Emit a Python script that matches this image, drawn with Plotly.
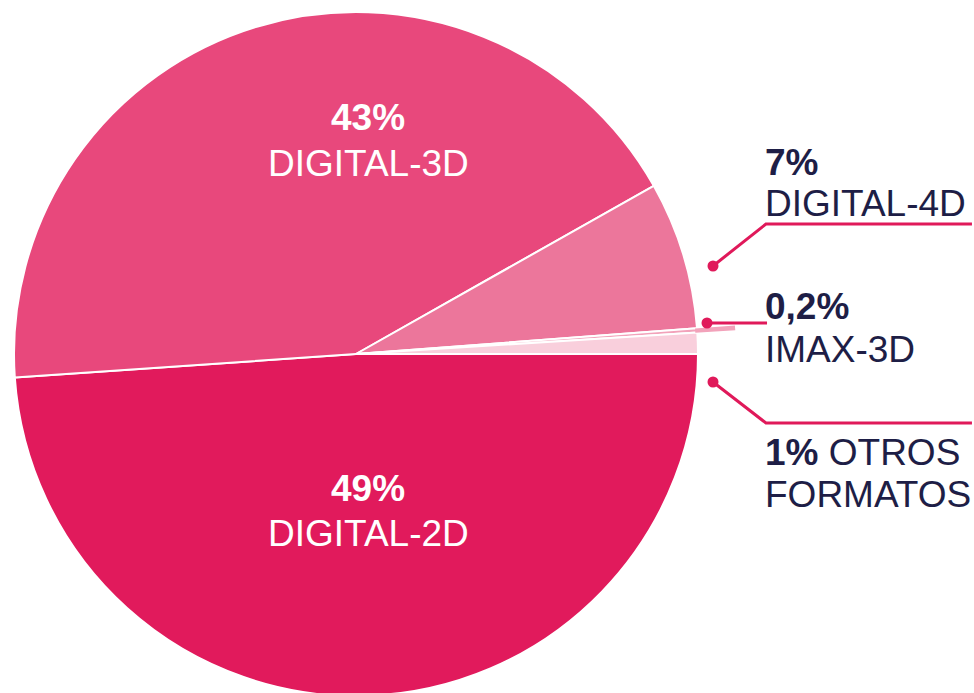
import math
import plotly.graph_objects as go

# ---- data ----
labels = ["DIGITAL-2D", "DIGITAL-3D", "DIGITAL-4D", "IMAX-3D", "OTROS FORMATOS"]
values = [49, 43, 7, 0.2, 1]
pct_text = ["49%", "43%", "7%", "0,2%", "1%"]
colors = ["#E11A5C", "#E8487C", "#EC769B", "#F2A2BA", "#F9CFDC"]

W, H = 974, 700  # page is clipped to 693 px by the window
NAVY = "#1E1E46"
PINK = "#E0195A"
FONT = "Liberation Sans, Arial, sans-serif"
FS = 37

cx, cy, R = 356, 354, 342  # pie centre / radius in px

def px(x):
    return x / W

def py(y):
    return 1 - y / H

fig = go.Figure(go.Pie(
    labels=labels,
    values=values,
    sort=False,
    direction="clockwise",
    rotation=90,
    marker=dict(colors=colors, line=dict(color="white", width=2)),
    textinfo="none",
    hoverinfo="label+percent",
    showlegend=False,
    domain=dict(x=[px(cx - R), px(cx + R)], y=[py(cy + R), py(cy - R)]),
))

annotations = []

def add_text(x, y, text, color, size=FS, xanchor="left"):
    annotations.append(dict(
        x=px(x), y=py(y), xref="paper", yref="paper", text=text,
        showarrow=False, xanchor=xanchor, yanchor="middle",
        font=dict(family=FONT, size=size, color=color),
    ))

# inside labels
add_text(368, 117, "<b>%s</b>" % pct_text[1], "white", xanchor="center")
add_text(368, 163, labels[1], "white", xanchor="center")
add_text(368, 488, "<b>%s</b>" % pct_text[0], "white", xanchor="center")
add_text(368, 533, labels[0], "white", xanchor="center")

# outside labels
add_text(763, 162, "<b>%s</b>" % pct_text[2], NAVY)
add_text(763, 204, labels[2], NAVY)
add_text(763, 306, "<b>%s</b>" % pct_text[3], NAVY)
add_text(763, 349, labels[3], NAVY)
add_text(763, 452, "<b>%s</b> OTROS" % pct_text[4], NAVY)
add_text(763, 494, "FORMATOS", NAVY)

shapes = []

# IMAX slice extension, derived from the data angles
total = sum(values)
start = sum(values[:3]) / total * 360
end = sum(values[:4]) / total * 360
r1, r2 = R - 2, R + 38
pts = []
for a, r in [(start, r1), (start, r2), (end, r2), (end, r1)]:
    rad = math.radians(a)
    pts.append((cx + r * math.cos(rad), cy + r * math.sin(rad)))
path = "M " + " L ".join("%.4f,%.4f" % (px(x), py(y)) for x, y in pts) + " Z"
shapes.append(dict(type="path", path=path, xref="paper", yref="paper",
                   fillcolor=colors[3], line=dict(width=0), layer="above"))

def polyline(points):
    p = "M " + " L ".join("%.4f,%.4f" % (px(x), py(y)) for x, y in points)
    shapes.append(dict(type="path", path=p, xref="paper", yref="paper",
                       line=dict(color=PINK, width=3)))

def dot(x, y, r=5.5):
    shapes.append(dict(type="circle", xref="paper", yref="paper",
                       x0=px(x - r), x1=px(x + r), y0=py(y + r), y1=py(y - r),
                       fillcolor=PINK, line=dict(width=0)))

polyline([(713, 266), (766, 224), (972, 224)])
dot(713, 266)
polyline([(707, 323), (767, 323)])
dot(707, 323)
polyline([(713, 382), (766, 423), (972, 423)])
dot(713, 382)

fig.update_layout(
    width=W, height=H,
    margin=dict(l=0, r=0, t=0, b=0),
    paper_bgcolor="white",
    plot_bgcolor="white",
    annotations=annotations,
    shapes=shapes,
)

fig.write_html(
    "out.html",
    config={"displayModeBar": False},
    post_script="document.body.style.margin='0';document.body.style.overflow='hidden';",
)
